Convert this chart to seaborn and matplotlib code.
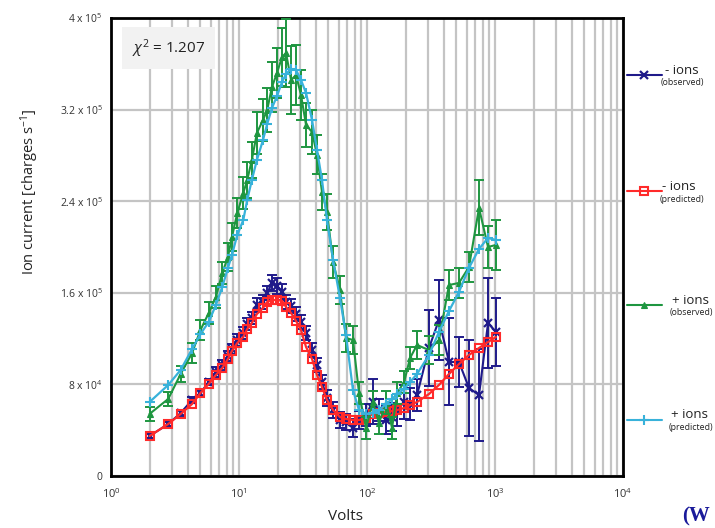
import numpy as np
import pandas as pd
import matplotlib
matplotlib.use("Agg")
import matplotlib.pyplot as plt
from matplotlib.lines import Line2D
from matplotlib.ticker import FixedLocator, LogLocator, NullFormatter
import seaborn as sns

# ---------------- data ----------------
volts = [2.0, 2.8, 3.5, 4.3, 5.0, 5.8, 6.6, 7.4, 8.2, 8.8, 9.7, 10.8, 11.6, 12.6,
         13.8, 15.4, 16.6, 18.1, 19.8, 21.7, 23.3, 25.5, 27.9, 30.5, 33.4, 37.2,
         40.7, 44.5, 48.7, 54.3, 61.5, 68.5, 77.7, 86.6, 98.2, 111, 124, 141, 157,
         172, 195, 217, 246, 305, 365, 437, 523, 626, 750, 882, 1018]

# values in units of 1e5 charges/s
neg_obs = [0.349, 0.454, 0.550, 0.664, 0.725, 0.821, 0.908, 0.969, 1.048, 1.109,
           1.188, 1.249, 1.328, 1.380, 1.494, 1.520, 1.598, 1.686, 1.659, 1.607,
           1.520, 1.485, 1.415, 1.345, 1.249, 1.100, 0.969, 0.821, 0.681, 0.576,
           0.489, 0.472, 0.419, 0.489, 0.533, 0.650, 0.576, 0.489, 0.515, 0.576,
           0.646, 0.629, 0.707, 1.118, 1.363, 0.996, 0.996, 0.769, 0.707, 1.336,
           1.258]
neg_obs_err = [0.02, 0.02, 0.03, 0.03, 0.03, 0.03, 0.04, 0.04, 0.04, 0.04, 0.05,
               0.05, 0.05, 0.05, 0.06, 0.06, 0.06, 0.07, 0.07, 0.07, 0.06, 0.06,
               0.06, 0.06, 0.06, 0.06, 0.06, 0.06, 0.07, 0.07, 0.07, 0.07, 0.08,
               0.08, 0.10, 0.20, 0.10, 0.12, 0.12, 0.14, 0.15, 0.14, 0.14, 0.33,
               0.35, 0.38, 0.22, 0.42, 0.40, 0.39, 0.30]
neg_pred = [0.349, 0.454, 0.542, 0.629, 0.725, 0.804, 0.882, 0.943, 1.022, 1.092,
            1.162, 1.214, 1.284, 1.336, 1.415, 1.467, 1.520, 1.537, 1.537, 1.530,
            1.476, 1.424, 1.354, 1.275, 1.127, 1.022, 0.882, 0.777, 0.664, 0.576,
            0.515, 0.498, 0.489, 0.489, 0.507, 0.542, 0.550, 0.559, 0.568, 0.576,
            0.594, 0.620, 0.646, 0.716, 0.795, 0.891, 0.978, 1.057, 1.118, 1.170,
            1.214]
pos_obs = [0.542, 0.673, 0.891, 1.074, 1.275, 1.424, 1.563, 1.773, 1.913, 2.087,
           2.297, 2.472, 2.585, 2.760, 2.996, 3.109, 3.197, 3.398, 3.520, 3.660,
           3.694, 3.459, 3.502, 3.328, 3.066, 3.004, 2.804, 2.480, 2.306, 1.869,
           1.625, 1.205, 1.188, 0.725, 0.419, 0.646, 0.463, 0.638, 0.419, 0.725,
           0.821, 1.031, 1.144, 1.100, 1.188, 1.668, 1.686, 1.825, 2.341, 2.000,
           2.018]
pos_obs_err = [0.06, 0.06, 0.07, 0.09, 0.09, 0.10, 0.10, 0.10, 0.12, 0.12, 0.13,
               0.14, 0.16, 0.16, 0.18, 0.18, 0.19, 0.22, 0.22, 0.25, 0.30, 0.30,
               0.26, 0.22, 0.19, 0.19, 0.17, 0.16, 0.16, 0.14, 0.12, 0.12, 0.12,
               0.10, 0.10, 0.10, 0.10, 0.10, 0.10, 0.10, 0.10, 0.10, 0.12, 0.12,
               0.13, 0.13, 0.13, 0.13, 0.24, 0.18, 0.22]
pos_pred = [0.646, 0.795, 0.926, 1.109, 1.240, 1.345, 1.494, 1.651, 1.817, 1.930,
            2.105, 2.236, 2.411, 2.585, 2.760, 2.935, 3.074, 3.214, 3.319, 3.441,
            3.511, 3.555, 3.546, 3.459, 3.345, 3.109, 2.847, 2.585, 2.236, 1.887,
            1.555, 1.232, 0.751, 0.576, 0.542, 0.550, 0.576, 0.629, 0.673, 0.716,
            0.760, 0.821, 0.891, 1.057, 1.258, 1.441, 1.607, 1.817, 1.983, 2.079,
            2.061]

ytick_vals = [0, 0.8e5, 1.6e5, 2.4e5, 3.2e5, 4.0e5]
ytick_labels = ["0", r"8 x 10$^4$", r"1.6 x 10$^5$", r"2.4 x 10$^5$",
                r"3.2 x 10$^5$", r"4 x 10$^5$"]
xtick_vals = [1, 10, 100, 1000, 10000]
xtick_labels = [r"10$^0$", r"10$^1$", r"10$^2$", r"10$^3$", r"10$^4$"]

legend_entries = [("- ions", "(observed)"), ("- ions", "(predicted)"),
                  ("+ ions", "(observed)"), ("+ ions", "(predicted)")]
chi_text = r"$\chi^2$ = 1.207"

SCALE = 1e5
df = pd.DataFrame({
    "volts": volts,
    "neg_obs": np.array(neg_obs) * SCALE,
    "neg_obs_err": np.array(neg_obs_err) * SCALE,
    "neg_pred": np.array(neg_pred) * SCALE,
    "pos_obs": np.array(pos_obs) * SCALE,
    "pos_obs_err": np.array(pos_obs_err) * SCALE,
    "pos_pred": np.array(pos_pred) * SCALE,
})

# ---------------- style ----------------
sns.set_theme(style="white")
plt.rcParams["font.family"] = ["Open Sans", "DejaVu Sans"]
plt.rcParams["mathtext.fontset"] = "custom"
plt.rcParams["mathtext.rm"] = "Open Sans"
plt.rcParams["mathtext.it"] = "Open Sans:italic"
plt.rcParams["mathtext.bf"] = "Open Sans:bold"

C_NEG_OBS = "#1f1a8a"
C_NEG_PRED = "#ff2a2a"
C_POS_OBS = "#1e9640"
C_POS_PRED = "#38b2da"
GRID = "#c4c4c4"

fig = plt.figure(figsize=(7.15, 5.28), dpi=100)
fig.patch.set_facecolor("white")
ax = fig.add_axes([111 / 715, 1 - 476 / 528, 512 / 715, 458 / 528])

ax.set_xscale("log")
ax.set_xlim(1, 1e4)
ax.set_ylim(0, 4e5)

# grid
ax.xaxis.set_major_locator(FixedLocator(xtick_vals))
ax.xaxis.set_minor_locator(LogLocator(base=10, subs=np.arange(2, 10)))
ax.xaxis.set_minor_formatter(NullFormatter())
ax.grid(True, which="both", axis="x", color=GRID, lw=1.6, zorder=0)
ax.set_yticks(ytick_vals)
ax.grid(True, which="major", axis="y", color=GRID, lw=1.6, zorder=0)
ax.set_axisbelow(True)

# observed - ions
ax.errorbar(df["volts"], df["neg_obs"], yerr=df["neg_obs_err"], fmt="none",
            ecolor=C_NEG_OBS, elinewidth=1.4, capsize=3.5, capthick=1.4, zorder=2)
sns.lineplot(data=df, x="volts", y="neg_obs", ax=ax, color=C_NEG_OBS, lw=1.5,
             marker="x", markersize=5.5, markeredgewidth=1.6,
             markeredgecolor=C_NEG_OBS, estimator=None, sort=False, zorder=3)
# predicted - ions
sns.lineplot(data=df, x="volts", y="neg_pred", ax=ax, color=C_NEG_PRED, lw=1.6,
             marker="s", markersize=5.5, markerfacecolor="none",
             markeredgecolor=C_NEG_PRED, markeredgewidth=1.5, estimator=None,
             sort=False, zorder=4)
# observed + ions
ax.errorbar(df["volts"], df["pos_obs"], yerr=df["pos_obs_err"], fmt="none",
            ecolor=C_POS_OBS, elinewidth=1.4, capsize=3.5, capthick=1.4, zorder=5)
sns.lineplot(data=df, x="volts", y="pos_obs", ax=ax, color=C_POS_OBS, lw=1.5,
             marker="^", markersize=4.5, markeredgewidth=0.8,
             markeredgecolor=C_POS_OBS, estimator=None, sort=False, zorder=6)
# predicted + ions
sns.lineplot(data=df, x="volts", y="pos_pred", ax=ax, color=C_POS_PRED, lw=1.6,
             marker="+", markersize=6.5, markeredgewidth=1.5,
             markeredgecolor=C_POS_PRED, estimator=None, sort=False, zorder=7)

ax.set_xlabel("")
ax.set_ylabel("")
ax.set_yticklabels(ytick_labels, fontsize=7.5, color="#333333")
ax.set_xticklabels(xtick_labels, fontsize=8, color="#333333")
ax.tick_params(axis="both", which="both", length=0)
ax.tick_params(axis="y", pad=6)
ax.tick_params(axis="x", pad=8)

for s in ax.spines.values():
    s.set_color("black")
    s.set_linewidth(2)

# labels
fig.text(30 / 715, 1 - 192 / 528, r"Ion current [charges s$^{-1}$]", rotation=90,
         ha="center", va="center", fontsize=10.5, color="#222222")
fig.text(346 / 715, 1 - 516 / 528, "Volts", ha="center", va="center",
         fontsize=11, color="#222222")

# chi-square box
ax.text(0.113, 0.934, chi_text, transform=ax.transAxes, ha="center", va="center",
        fontsize=11, color="#222222", zorder=10,
        bbox=dict(boxstyle="square,pad=0.65", facecolor="#f2f2f2", edgecolor="none"))

# legend at right (figure coordinates)
leg_y = [75, 191, 305, 420]
leg_style = [
    dict(color=C_NEG_OBS, marker="x", markersize=5.5, markeredgewidth=1.6, mfc=C_NEG_OBS),
    dict(color=C_NEG_PRED, marker="s", markersize=5.5, markeredgewidth=1.5, mfc="none"),
    dict(color=C_POS_OBS, marker="^", markersize=5, markeredgewidth=0.8, mfc=C_POS_OBS),
    dict(color=C_POS_PRED, marker="+", markersize=7, markeredgewidth=1.5, mfc=C_POS_PRED),
]
text_x = [(665, 661), (662, 660), (672, 670), (671, 669)]
for (main, sub), y, st, (tx, sx) in zip(legend_entries, leg_y, leg_style, text_x):
    yf = 1 - y / 528
    fig.add_artist(Line2D([627 / 715, 662 / 715], [yf, yf], transform=fig.transFigure,
                          color=st["color"], lw=1.5))
    fig.add_artist(Line2D([644 / 715], [yf], transform=fig.transFigure,
                          color=st["color"], marker=st["marker"], markersize=st["markersize"],
                          markeredgewidth=st["markeredgewidth"], mfc=st["mfc"],
                          mec=st["color"], lw=0))
    fig.text(tx / 715, 1 - (y - 5) / 528, main, ha="left", va="center",
             fontsize=9.5, color="#222222")
    fig.text(sx / 715, 1 - (y + 8) / 528, sub, ha="left", va="center",
             fontsize=6.3, color="#222222")

# caption fragment at the bottom right (kept inside the canvas)
fig.text(682 / 715, 2 / 528, "(W", ha="left", va="bottom", fontsize=15,
         fontweight="bold", family=["Liberation Serif", "DejaVu Serif"], color="#1a1a9a")

fig.savefig("out.png", dpi=100, facecolor="white")
